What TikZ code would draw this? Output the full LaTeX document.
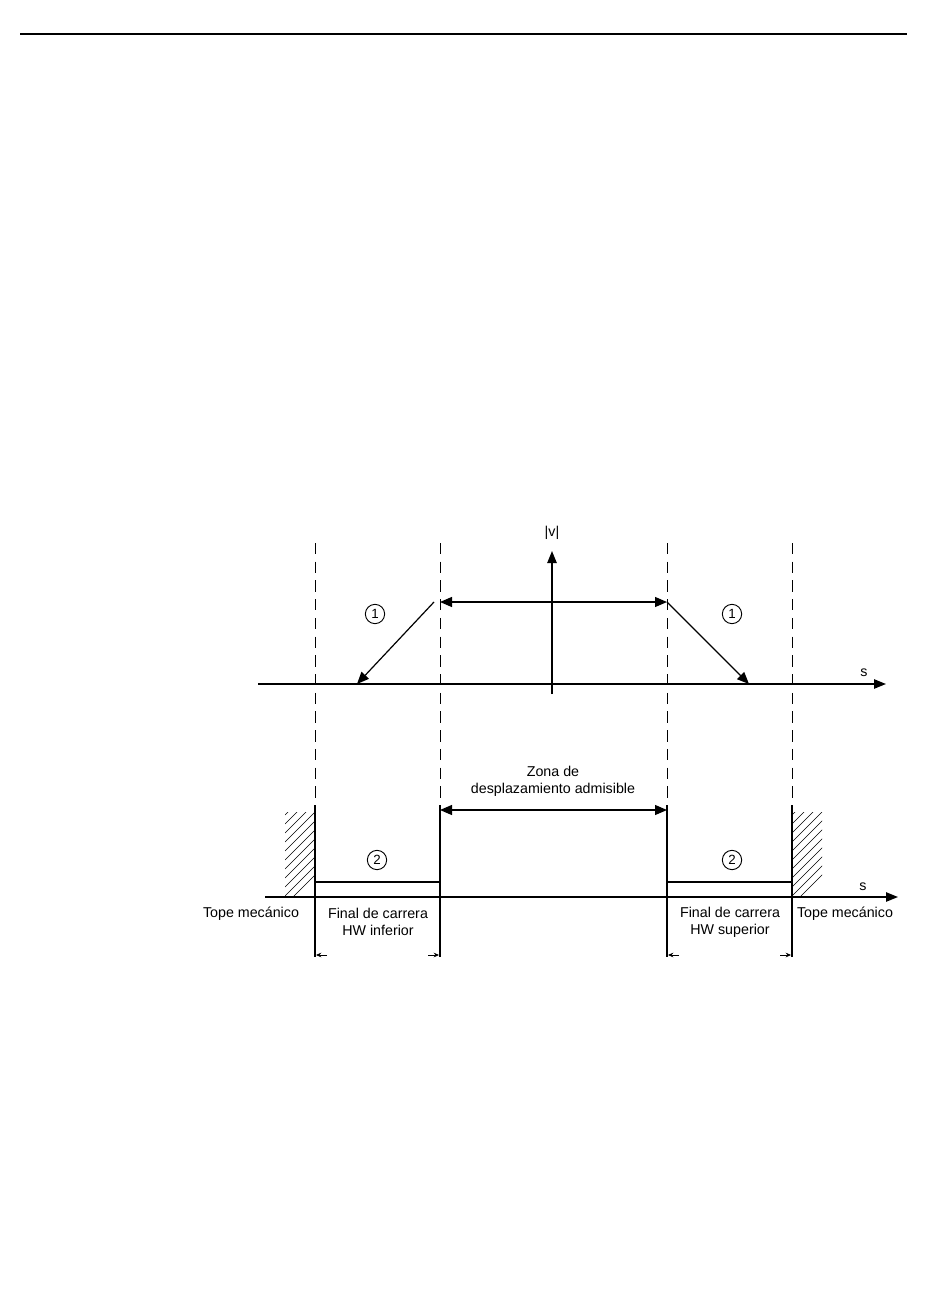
\documentclass[tikz,border=0pt]{standalone}
\usepackage{fontspec}
\setmainfont{Liberation Sans}
\usetikzlibrary{positioning,arrows.meta,calc}

\tikzset{
  axis/.style={line width=1.1pt,-{Triangle[length=9pt,width=7pt]}},
  twoway/.style={line width=0.9pt,{Triangle[length=9pt,width=7.5pt]}-{Triangle[length=9pt,width=7.5pt]}},
  ramp/.style={line width=0.9pt,-{Triangle[length=9pt,width=7.5pt]}},
  guide/.style={line width=0.7pt,dash pattern=on 8.5pt off 5.54pt},
  limit/.style={line width=0.9pt},
  dimtick/.style={line width=0.6pt,-{Stealth[length=4pt,width=3.5pt]}},
  numcirc/.style={circle,draw,line width=0.7pt,inner sep=0pt,minimum size=14.5pt,font=\fontsize{10}{10}\selectfont},
  lbl/.style={font=\fontsize{10.7}{12.8}\selectfont,align=center,inner sep=1pt}
}

\begin{document}
\begin{tikzpicture}[x=0.75pt,y=-0.75pt]
  \useasboundingbox (0,0) rectangle (950,1301);

  % page rule
  \draw[line width=1pt] (20,34) -- (907,34);

  % guide lines (dashed above, solid below)
  \foreach \x/\n in {315/a,440/b,667/c,792/d} {
    \coordinate (top\n) at (\x,543);
    \coordinate (mid\n) at (\x,805);
    \coordinate (bot\n) at (\x,957);
    \draw[guide] (top\n) -- (mid\n);
    \draw[limit] (mid\n) -- (bot\n);
  }

  % velocity diagram
  \coordinate (s1start) at (258,684);
  \coordinate (s1end) at (886,684);
  \coordinate (vstart) at (552,694);
  \coordinate (vend) at (552,551);
  \draw[axis] (s1start) -- (s1end);
  \draw[axis] (vstart) -- (vend);
  \node[lbl] (s1) at (864,673) {s};
  \node[lbl] (v) at (552,533) {|v|};

  \coordinate (vl) at (440,602);
  \coordinate (vr) at (667,602);
  \draw[twoway] (vl) -- (vr);
  \coordinate (rl) at (434,602);
  \coordinate (rlend) at (357,684);
  \coordinate (rrend) at (749,684);
  \draw[ramp] (rl) -- (rlend);
  \draw[ramp] (vr) -- (rrend);
  \node[numcirc] (one1) at (375,614) {1};
  \node[numcirc] (one2) at (732,614) {1};

  % travel range
  \coordinate (s2start) at (265,897);
  \coordinate (s2end) at (898,897);
  \draw[axis] (s2start) -- (s2end);
  \node[lbl] (s2) at (863,887) {s};

  \draw[limit] (mida |- 0,882) -- (midb |- 0,882);
  \draw[limit] (midc |- 0,882) -- (midd |- 0,882);
  \node[numcirc] (two1) at (377,860) {2};
  \node[numcirc] (two2) at (732,860) {2};

  \coordinate (zl) at (440,810);
  \coordinate (zr) at (667,810);
  \draw[twoway] (zl) -- (zr);
  \node[lbl] (zona) at (553,781) {Zona de\\desplazamiento admisible};

  % hatched stops
  \begin{scope}
    \clip (285,812) rectangle (315,897);
    \foreach \k in {0,9,...,135} {
      \draw[line width=0.5pt] (285,897-\k+8) -- (330,897-\k-37);
    }
  \end{scope}
  \begin{scope}
    \clip (792,812) rectangle (822,897);
    \foreach \k in {0,9,...,135} {
      \draw[line width=0.5pt] (792,897-\k+8) -- (837,897-\k-37);
    }
  \end{scope}

  % labels
  \node[lbl] (tope1) at (251,914) {Tope mecánico};
  \node[lbl] (fin1) at (378,922) {Final de carrera\\HW inferior};
  \node[lbl] (fin2) at (730,922) {Final de carrera\\HW superior};
  \node[lbl] (tope2) at (845,914) {Tope mecánico};

  % dimension ticks
  \draw[dimtick] ($(bota)+(12,-2)$) -- ($(bota)+(1,-2)$);
  \draw[dimtick] ($(botb)+(-12,-2)$) -- ($(botb)+(-1,-2)$);
  \draw[dimtick] ($(botc)+(12,-2)$) -- ($(botc)+(1,-2)$);
  \draw[dimtick] ($(botd)+(-12,-2)$) -- ($(botd)+(-1,-2)$);
\end{tikzpicture}
\end{document}
